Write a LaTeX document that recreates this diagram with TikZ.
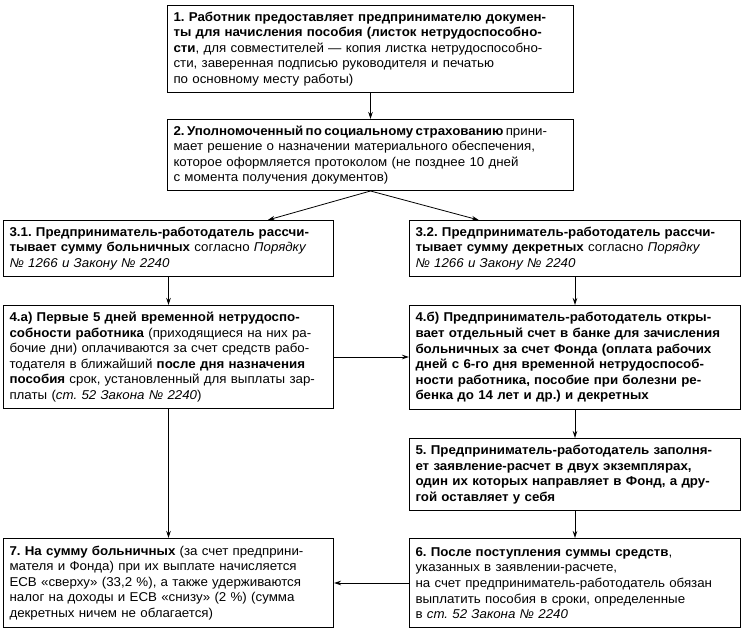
\documentclass[tikz,border=0pt]{standalone}
\usepackage{fontspec}
\setsansfont{Liberation Sans}[FakeStretch=1.04]
\usetikzlibrary{arrows.meta,calc}
\tikzset{
  >={Stealth[length=7pt,width=4.5pt]},
  % --- nodes
  box/.style  = {draw, line width=1pt, anchor=north west, align=left,
                 inner xsep=6pt, inner ysep=2pt,
                 font=\fontsize{12.8}{15.6}\selectfont\sffamily\frenchspacing},
  % --- edges
  e/.style    = {->, line width=0.8pt},
}
\begin{document}
\begin{tikzpicture}[x=1pt,y=-1pt]
  \useasboundingbox (0,0) rectangle (743,631);

  % top of the chain
  \node[box, text width=394pt, minimum height=87pt] (b1) at (167,5)
    {\mbox{\textbf{1. Работник предоставляет предпринимателю докумен-}}\\
     \textbf{ты для начисления пособия (листок нетрудоспособно-}\\
     \mbox{\textbf{сти}, для совместителей — копия листка нетрудоспособно-}\\
     сти, заверенная подписью руководителя и печатью\\
     по основному месту работы)};
  \node[box, text width=394pt, minimum height=71pt] (b2) at (167,119)
    {\mbox{\spaceskip=2.4pt\textbf{2. Уполномоченный по социальному страхованию} прини-}\\
     мает решение о назначении материального обеспечения,\\
     которое оформляется протоколом (не позднее 10 дней\\
     с момента получения документов)};

  % left branch
  \node[box, text width=318pt, minimum height=56pt] (b31) at (3,220)
    {\textbf{3.1. Предприниматель-работодатель рассчи-}\\
     \textbf{тывает сумму больничных} согласно \textit{Порядку}\\
     \textit{№ 1266 и Закону № 2240}};
  \node[box, text width=318pt, minimum height=103pt] (b4a) at (3,305)
    {\textbf{4.а) Первые 5 дней временной нетрудоспо-}\\
     \textbf{собности работника} (приходящиеся на них ра-\\
     бочие дни) оплачиваются за счет средств рабо-\\
     тодателя в ближайший \textbf{после дня назначения}\\
     \mbox{\textbf{пособия} срок, установленный для выплаты зар-}\\
     платы (\textit{ст. 52 Закона № 2240})};
  \node[box, text width=318pt, minimum height=89pt] (b7) at (3,538)
    {\textbf{7. На сумму больничных} (за счет предприни-\\
     мателя и Фонда) при их выплате начисляется\\
     ЕСВ «сверху» (33,2 \%), а также удерживаются\\
     налог на доходы и ЕСВ «снизу» (2 \%) (сумма\\
     декретных ничем не облагается)};

  % right branch
  \node[box, text width=319pt, minimum height=56pt] (b32) at (409,220)
    {\textbf{3.2. Предприниматель-работодатель рассчи-}\\
     \textbf{тывает сумму декретных} согласно \textit{Порядку}\\
     \textit{№ 1266 и Закону № 2240}};
  \node[box, text width=319pt, minimum height=104pt] (b4b) at (409,305)
    {\textbf{4.б) Предприниматель-работодатель откры-}\\
     \mbox{\textbf{вает отдельный счет в банке для зачисления}}\\
     \textbf{больничных за счет Фонда (оплата рабочих}\\
     \textbf{дней с 6-го дня временной нетрудоспособ-}\\
     \textbf{ности работника, пособие при болезни ре-}\\
     \textbf{бенка до 14 лет и др.) и декретных}};
  \node[box, text width=319pt, minimum height=72pt] (b5) at (409,438)
    {\textbf{5. Предприниматель-работодатель заполня-}\\
     \textbf{ет заявление-расчет в двух экземплярах,}\\
     \textbf{один их которых направляет в Фонд, а дру-}\\
     \textbf{гой оставляет у себя}};
  \node[box, text width=319pt, minimum height=89pt] (b6) at (409,538)
    {\textbf{6. После поступления суммы средств},\\
     указанных в заявлении-расчете,\\
     \mbox{на счет предприниматель-работодатель обязан}\\
     выплатить пособия в сроки, определенные\\
     в \textit{ст. 52 Закона № 2240}};

  % connectors
  \draw[e] (b1.south) -- (b2.north);
  \draw[e] (b2.south) -- ($(b31.north)!0.6!(b31.north east)$);
  \draw[e] (b2.south) -- ($(b32.north)!0.58!(b32.north west)$);
  \draw[e] (b31.south) -- (b4a.north);
  \draw[e] (b32.south) -- (b4b.north);
  \draw[e] (b4a.east) -- (b4a.east -| b4b.west);
  \draw[e] (b4a.south) -- (b7.north);
  \draw[e] (b4b.south) -- (b5.north);
  \draw[e] (b5.south) -- (b6.north);
  \draw[e] (b6.west) -- (b6.west -| b7.east);
\end{tikzpicture}
\end{document}
